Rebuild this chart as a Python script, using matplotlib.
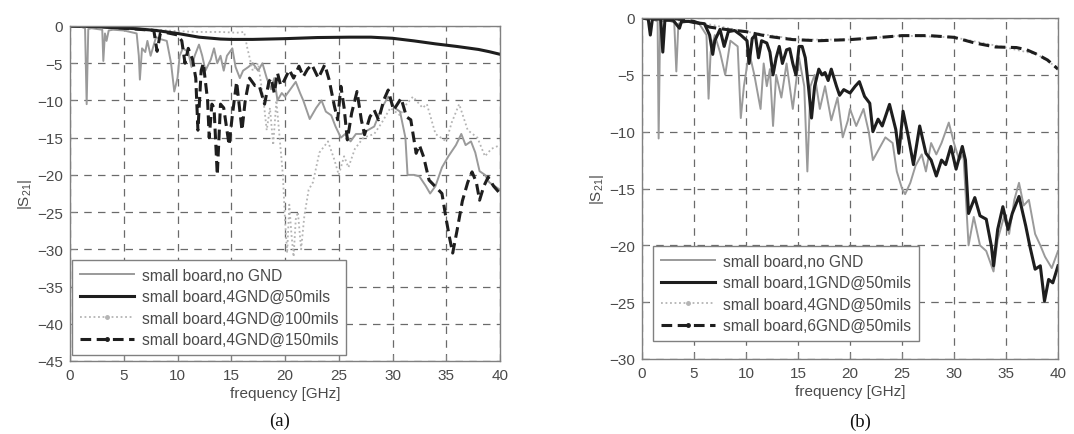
import matplotlib
matplotlib.use("Agg")
import matplotlib.pyplot as plt
from matplotlib.lines import Line2D

plt.rcParams['font.family'] = ['Liberation Sans', 'DejaVu Sans']
plt.rcParams['mathtext.default'] = 'regular'

# ---------------- data (a) ----------------
a_nognd_f = [0, 0.5, 1.0, 1.4, 1.55, 1.7, 2.0, 2.5, 3.0, 3.1, 3.25, 3.4, 3.6, 4.0, 5.0, 5.6, 6.2, 6.4, 6.5, 6.7,
             7.0, 7.2, 7.5, 8.0, 8.5, 9.0, 9.4, 9.7, 10.0, 10.2, 10.5, 11.0, 11.3, 11.6, 12.0, 12.3, 12.6, 13.1,
             13.4, 13.7, 14.0, 14.3, 14.6, 15.1, 15.4, 15.8, 16.1, 16.6, 17.0, 17.5, 17.9, 18.3, 18.7, 19.0, 19.3,
             19.7, 20.0, 20.5, 21.0, 21.4, 21.7, 22.3, 22.9, 23.4, 23.8, 24.3, 24.7, 25.2, 25.6, 26.1, 26.6, 27.1,
             27.7, 28.3, 29.0, 29.6, 30.2, 30.7, 31.2, 31.4, 32.0, 32.5, 33.1, 33.5, 34.0, 34.6, 35.2, 35.9, 36.4,
             36.8, 37.3, 37.7, 38.1, 38.6, 39.0, 39.5, 40.0]
a_nognd_v = [0, 0, -0.1, -0.3, -10.5, -0.4, -0.3, -0.4, -0.5, -4.7, -1.0, -2.0, -0.6, -0.5, -0.6, -0.8, -1.0, -4.0, -7.2, -3.0,
             -3.5, -2.0, -4.0, -1.5, -1.8, -2.0, -5.0, -8.8, -7.0, -4.0, -3.0, -3.5, -5.5, -4.0, -2.5, -4.0, -6.0, -4.5,
             -3.0, -5.0, -4.0, -6.0, -4.0, -3.0, -5.5, -7.0, -6.0, -5.5, -5.0, -6.0, -5.0, -7.0, -8.5, -7.0, -10.0,
             -9.0, -9.5, -8.5, -7.5, -9.0, -10.0, -12.5, -11.0, -10.0, -11.5, -12.0, -13.5, -15.0, -14.5, -15.5, -14.5, -14.5,
             -14.0, -13.5, -11.0, -9.5, -11.0, -11.5, -15.0, -20.0, -20.0, -20.2, -21.5, -22.5, -21.5, -19.0, -17.5, -16.0, -14.5,
             -16.0, -15.5, -17.0, -19.5, -20.0, -21.0, -21.5, -22.0]

a_50_f = [0, 2, 4, 6, 8, 10, 12, 14, 15, 17, 20, 23, 26, 28, 30, 32, 34, 36, 38, 39, 40]
a_50_v = [0, -0.05, -0.2, -0.35, -0.6, -1.0, -1.5, -1.75, -1.8, -1.8, -1.7, -1.55, -1.5, -1.5, -1.65, -2.0, -2.4, -2.75,
          -3.15, -3.45, -3.8]

a_100_f = [0, 4, 8, 10, 12, 14, 15.5, 16.2, 16.5, 17.0, 17.5, 18.0, 18.3, 18.6, 18.9, 19.2, 19.5, 19.8, 20.0, 20.2,
           20.4, 20.6, 20.8, 21.0, 21.2, 21.5, 21.8, 22.2, 22.6, 23.2, 24.0, 24.6, 25.0, 25.5, 25.9, 26.5, 27.3, 28.3,
           29.0, 29.8, 30.7, 31.3, 31.9, 32.8, 33.2, 34.0, 35.0, 35.5, 36.2, 37.0, 37.9, 38.6, 39.2, 40.0]
a_100_v = [0, -0.2, -0.5, -0.7, -0.8, -0.8, -0.9, -0.8, -3.0, -6.0, -5.0, -10.0, -14.0, -11.0, -16.0, -10.0, -15.0, -20.0,
           -26.0, -30.5, -24.0, -28.0, -31.0, -26.0, -25.0, -30.0, -25.5, -22.0, -21.0, -17.0, -15.5, -18.0, -20.0, -17.5,
           -19.0, -16.5, -15.0, -14.5, -13.0, -11.0, -12.0, -10.5, -9.5, -11.0, -10.5, -14.5, -15.5, -13.0, -10.5, -14.0,
           -15.0, -17.5, -16.5, -16.0]

a_150_f = [0, 3, 5, 6, 7.8, 8.1, 8.4, 9, 10, 10.4, 10.7, 11.0, 11.4, 11.7, 11.9, 12.2, 12.4, 12.8, 12.95, 13.2, 13.4,
           13.7, 14.0, 14.3, 14.8, 15.1, 15.5, 16.0, 16.3, 16.7, 17.2, 17.6, 18.1, 18.5, 18.7, 19.0, 19.3, 19.6, 19.9,
           20.4, 20.8, 21.3, 21.7, 22.1, 22.5, 23.1, 23.7, 24.1, 24.6, 24.9, 25.2, 25.5, 25.8, 26.2, 26.7, 27.1, 27.4,
           27.9, 28.3, 28.7, 29.2, 29.6, 30.1, 30.5, 30.8, 31.3, 31.7, 32.2, 32.5, 32.9, 33.4, 34.0, 34.6, 35.0, 35.3,
           35.6, 36.0, 36.5, 37.0, 37.4, 37.8, 38.1, 38.5, 38.9, 39.4, 40.0]
a_150_v = [0, -0.1, -0.3, -0.4, -0.6, -3.4, -1.0, -0.9, -1.2, -2.0, -5.0, -3.0, -4.5, -7.0, -14.0, -6.0, -5.0, -10.0, -15.0,
           -10.5, -11.0, -20.0, -10.5, -11.0, -16.0, -12.0, -7.5, -14.0, -10.0, -7.0, -8.0, -8.0, -10.5, -7.5, -7.0, -9.0,
           -6.3, -8.0, -7.4, -5.9, -7.0, -5.4, -6.8, -5.8, -5.2, -7.0, -5.2, -7.2, -10.8, -12.6, -8.1, -11.0, -15.3, -11.7,
           -8.8, -12.6, -14.6, -12.2, -11.3, -12.6, -9.9, -8.6, -11.3, -10.4, -9.7, -12.2, -12.6, -17.1, -16.0, -17.6,
           -20.7, -21.6, -22.5, -26.0, -28.4, -30.5, -27.5, -23.5, -21.0, -19.6, -21.0, -23.4, -21.5, -20.3, -21.5, -22.5]

a_labels = ['small board,no GND', 'small board,4GND@50mils', 'small board,4GND@100mils', 'small board,4GND@150mils']

# ---------------- data (b) ----------------
b_nognd_f = [0, 1.0, 1.5, 1.6, 1.75, 2.5, 3.1, 3.3, 3.5, 4.5, 5.5, 6.2, 6.4, 6.6, 7.0, 7.5, 8.0, 8.5, 9.2, 9.5, 9.8,
             10.3, 10.8, 11.4, 11.7, 12.0, 12.3, 12.6, 12.9, 13.4, 13.9, 14.5, 15.1, 15.6, 15.9, 16.2, 16.6, 17.1, 17.6,
             18.2, 18.8, 19.3, 19.8, 20.0, 20.6, 21.3, 21.8, 22.2, 22.8, 23.4, 24.1, 24.5, 25.0, 25.3, 25.8, 26.3, 26.9,
             27.3, 27.8, 28.3, 28.8, 29.5, 30.0, 30.5, 30.9, 31.4, 31.9, 32.5, 33.1, 33.8, 34.2, 34.8, 35.3, 35.8, 36.25,
             36.7, 37.2, 37.8, 38.3, 38.75, 39.4, 40.0]
b_nognd_v = [0, -0.1, -0.3, -10.6, -0.3, -0.2, -0.4, -4.7, -0.5, -0.3, -0.5, -1.5, -7.1, -3.0, -1.5, -3.0, -5.0, -2.0, -2.5,
             -8.8, -6.0, -3.0, -5.0, -8.0, -4.0, -6.0, -4.5, -9.5, -5.0, -7.0, -4.0, -8.0, -3.5, -6.0, -13.5, -6.0, -5.0,
             -8.0, -6.0, -9.0, -7.0, -10.5, -9.0, -8.0, -9.5, -8.0, -10.0, -12.5, -11.5, -10.5, -11.0, -13.5, -15.0, -15.5,
             -14.5, -13.0, -12.0, -13.5, -11.0, -12.0, -11.0, -9.2, -11.0, -12.5, -12.0, -20.0, -17.5, -20.0, -20.5, -22.3,
             -19.5, -17.5, -19.0, -16.0, -14.5, -16.5, -16.0, -19.0, -20.0, -21.0, -22.0, -20.5]

b_1gnd_f = [0, 0.6, 0.8, 1.0, 1.8, 2.0, 2.2, 3.0, 3.6, 3.8, 4.5, 5.0, 6.0, 6.5, 6.8, 7.0, 7.5, 7.9, 8.3, 8.9, 9.5,
            10.1, 10.3, 10.6, 10.9, 11.2, 11.5, 12.0, 12.3, 12.6, 12.9, 13.2, 13.5, 13.9, 14.2, 14.5, 14.8, 15.1, 15.4,
            15.7, 16.0, 16.3, 16.6, 17.0, 17.3, 17.6, 17.9, 18.2, 18.7, 19.0, 19.4, 20.0, 20.5, 20.9, 21.4, 21.9, 22.2,
            22.7, 23.1, 23.8, 24.4, 24.7, 25.1, 25.6, 26.1, 26.7, 27.3, 27.8, 28.3, 28.8, 29.2, 29.7, 30.2, 30.8, 31.1,
            31.4, 32.0, 32.5, 33.1, 33.6, 33.8, 34.2, 34.7, 35.2, 35.6, 36.25, 36.9, 37.3, 37.8, 38.3, 38.7, 39.1, 39.5, 40.0]
b_1gnd_v = [0, -0.1, -1.5, -0.1, -0.1, -3.0, -0.2, -0.2, -0.9, -0.3, -0.3, -0.4, -0.5, -1.5, -3.2, -2.0, -1.0, -2.5, -1.2,
            -1.1, -1.5, -2.0, -4.0, -1.8, -1.5, -3.5, -2.0, -2.2, -3.0, -5.0, -3.5, -2.5, -4.0, -2.8, -2.7, -4.0, -5.0, -2.5,
            -2.5, -3.5, -6.0, -8.8, -6.0, -4.5, -5.0, -4.8, -5.5, -4.5, -6.0, -6.8, -6.3, -6.6, -6.0, -5.6, -6.9, -7.5,
            -10.0, -8.9, -9.5, -7.6, -9.8, -11.9, -8.2, -10.4, -12.9, -9.5, -11.9, -12.5, -13.9, -12.5, -12.9, -11.3, -13.3,
            -11.3, -12.5, -17.2, -15.8, -17.4, -17.7, -20.1, -21.8, -18.6, -16.6, -18.6, -17.2, -15.7, -18.3, -20.1, -22.1,
            -21.8, -24.9, -23.0, -23.3, -21.8]

b_4gnd_f = [0, 5, 10, 15, 20, 25, 30, 35, 38, 40]
b_4gnd_v = [0, -0.3, -1.2, -1.9, -1.9, -1.55, -1.7, -2.6, -3.2, -4.4]

b_6gnd_f = [0, 3, 4, 5, 6.5, 8, 10, 12, 14.5, 17, 20, 23, 25, 27.6, 30, 32, 34, 36, 37, 38, 39, 40]
b_6gnd_v = [0, -0.05, -0.15, -0.3, -0.8, -1.0, -1.2, -1.6, -1.9, -2.0, -1.9, -1.7, -1.55, -1.55, -1.7, -2.2, -2.55,
            -2.6, -2.8, -3.2, -3.7, -4.5]

b_labels = ['small board,no GND', 'small board,1GND@50mils', 'small board,4GND@50mils', 'small board,6GND@50mils']

x_ticks = [0, 5, 10, 15, 20, 25, 30, 35, 40]
a_yticks = [0, -5, -10, -15, -20, -25, -30, -35, -40, -45]
b_yticks = [0, -5, -10, -15, -20, -25, -30]

# ---------------- styles ----------------
GRAY = '#9a9a9a'
BLACK = '#1e1e1e'
DOT = '#b4b4b4'
styles = [
    dict(color=GRAY, lw=1.4, ls='-'),
    dict(color=BLACK, lw=2.2, ls='-'),
    dict(color=DOT, lw=1.3, ls=(0, (1, 1.5))),
    dict(color=BLACK, lw=2.2, ls=(0, (3.5, 1.8))),
]
markers = [None, None, '.', '.']

fig = plt.figure(figsize=(10.74, 4.35), dpi=100)
axA = fig.add_axes([70 / 1074, 73 / 435, 430 / 1074, 335 / 435])
axB = fig.add_axes([642 / 1074, 75 / 435, 416 / 1074, 341 / 435])


def style_axes(ax, yticks, ylim):
    ax.set_xlim(0, 40)
    ax.set_ylim(*ylim)
    ax.set_xticks(x_ticks)
    ax.set_yticks(yticks)
    ax.grid(True, color='#6a6a6a', lw=0.9, ls=(0, (6, 5)))
    ax.set_axisbelow(True)
    for s in ax.spines.values():
        s.set_color('#808080')
        s.set_linewidth(1.0)
    ax.tick_params(direction='in', length=4, color='#808080', labelcolor='#4a4a4a',
                   labelsize=11, pad=5)
    ax.set_xlabel('frequency [GHz]', fontsize=11, color='#4a4a4a', labelpad=3)
    ax.set_ylabel('|S$_{21}$|', fontsize=11, color='#4a4a4a', labelpad=2)


def make_legend(ax, labels, anchor):
    handles = []
    for st, mk in zip(styles, markers):
        handles.append(Line2D([], [], marker=mk, markersize=5, **st))
    leg = ax.legend(handles, labels, loc='lower left', bbox_to_anchor=anchor, borderaxespad=0,
                    fontsize=11.2, handlelength=3.5, handletextpad=0.5, labelspacing=0.42,
                    fancybox=False, framealpha=1, edgecolor='#808080', borderpad=0.5,
                    labelcolor='#4a4a4a', numpoints=1)
    leg.get_frame().set_linewidth(1.0)


# (a)
axA.plot(a_nognd_f, a_nognd_v, **styles[0])
axA.plot(a_100_f, a_100_v, **styles[2])
axA.plot(a_150_f, a_150_v, **styles[3])
axA.plot(a_50_f, a_50_v, **styles[1])
style_axes(axA, a_yticks, (-45, 0))
make_legend(axA, a_labels, (0.005, 0.018))

# (b)
axB.plot(b_nognd_f, b_nognd_v, **styles[0])
axB.plot(b_4gnd_f, b_4gnd_v, **styles[2])
axB.plot(b_6gnd_f, b_6gnd_v, **styles[3])
axB.plot(b_1gnd_f, b_1gnd_v, **styles[1])
style_axes(axB, b_yticks, (-30, 0))
make_legend(axB, b_labels, (0.026, 0.053))

fig.text(280 / 1074, 1 - 421 / 435, '(a)', fontsize=13.5, family=['Liberation Serif', 'DejaVu Serif'],
         ha='center', va='center', color='#111111')
fig.text(860 / 1074, 1 - 422 / 435, '(b)', fontsize=13.5, family=['Liberation Serif', 'DejaVu Serif'],
         ha='center', va='center', color='#111111')

fig.savefig('out.png', dpi=100, facecolor='white')
